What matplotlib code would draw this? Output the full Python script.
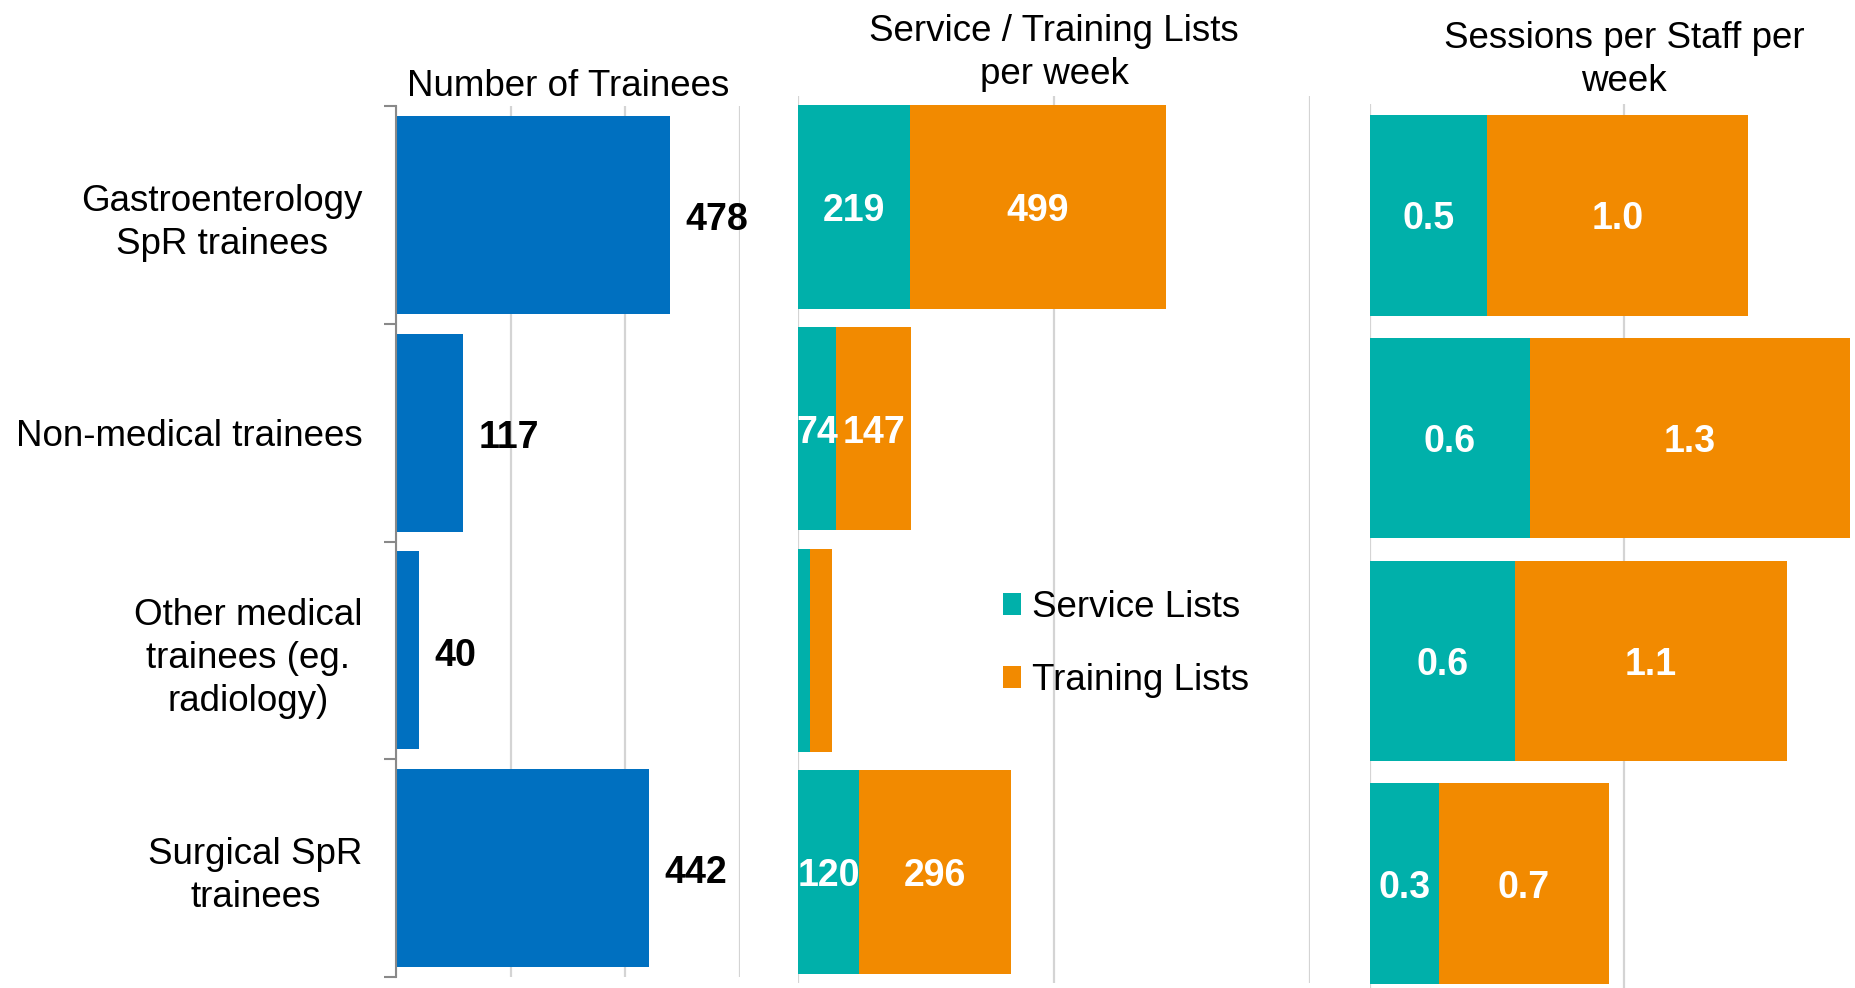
import numpy as np
import matplotlib
matplotlib.use('Agg')
import matplotlib.pyplot as plt

# ---------------- data ----------------
categories = ["Gastroenterology\nSpR trainees",
              "Non-medical trainees",
              "Other medical\ntrainees (eg.\nradiology)",
              "Surgical SpR\ntrainees"]
trainees = [478, 117, 40, 442]
service_lists = [219, 74, 24, 120]
training_lists = [499, 147, 43, 296]
service_sessions = [0.46, 0.63, 0.57, 0.27]
training_sessions = [1.03, 1.26, 1.07, 0.67]
titles = ["Number of Trainees",
          "Service / Training Lists\nper week",
          "Sessions per Staff per\nweek"]
legend_labels = ["Service Lists", "Training Lists"]

# ---------------- style ----------------
W, H = 1856, 988
BLUE = '#0070C0'
TEAL = '#00B0AA'
ORANGE = '#F28A00'
GRID = '#D4D4D4'
SPINE = '#898989'
FS = 26.5
FS_NUM = 27
LS = 1.3

plt.rcParams['font.family'] = ['Liberation Sans', 'DejaVu Sans']
fig = plt.figure(figsize=(W / 100, H / 100), dpi=100)


def add_px_axes(left, top, right, bottom):
    return fig.add_axes([left / W, 1 - bottom / H, (right - left) / W, (bottom - top) / H])


def style(ax, xmax, step):
    ax.set_xlim(0, xmax)
    ax.set_ylim(len(categories) - 0.5, -0.5)
    ax.set_xticks(np.arange(0, xmax + step / 2, step))
    ax.tick_params(axis='x', length=0, labelbottom=False)
    ax.grid(axis='x', color=GRID, linewidth=1.6)
    ax.set_axisbelow(True)
    for s in ax.spines.values():
        s.set_visible(False)
    ax.set_facecolor('none')


def title(ax, text, top, bottom, last_baseline):
    # va='baseline' anchors the baseline of the last line of the title
    ax.set_title(text, x=0.5, y=1 + (top - last_baseline) / (bottom - top), pad=0,
                 fontsize=FS, va='baseline', linespacing=LS)


y = np.arange(len(categories))

# ---------------- panel 1 ----------------
t1, b1_ = 106, 977
ax1 = add_px_axes(396, t1, 740, b1_)
style(ax1, 600, 200)
ax1.barh(y, trainees, height=0.91, color=BLUE)
for yi, v in zip(y, trainees):
    ax1.annotate(f"{v}", xy=(v, yi), xytext=(11, -11), textcoords='offset points',
                 ha='left', va='baseline', fontsize=FS_NUM, fontweight='bold', color='black')
ax1.set_yticks(y)
ax1.set_yticklabels(categories, fontsize=FS, multialignment='center', linespacing=LS)
ax1.tick_params(axis='y', which='major', length=0, pad=24)
ax1.set_yticks(np.arange(-0.5, len(categories)), minor=True)
ax1.tick_params(axis='y', which='minor', length=8.6, width=1.5, color=SPINE, direction='out')
ax1.spines['left'].set_visible(True)
ax1.spines['left'].set_color(SPINE)
ax1.spines['left'].set_linewidth(1.5)
title(ax1, titles[0], t1, b1_, 96)

# ---------------- panel 2 ----------------
t2, b2_ = 96, 983
ax2 = add_px_axes(798, t2, 1310, b2_)
style(ax2, 1000, 500)
ax2.set_yticks([])
bs = ax2.barh(y, service_lists, height=0.918, color=TEAL)
bt = ax2.barh(y, training_lists, left=service_lists, height=0.918, color=ORANGE)
for yi, s, t in zip(y, service_lists, training_lists):
    if s >= 50:
        ax2.annotate(f"{s}", xy=(s / 2, yi), xytext=(0, -10), textcoords='offset points',
                     ha='center', va='baseline', fontsize=FS_NUM, fontweight='bold', color='white')
    if t >= 50:
        ax2.annotate(f"{t}", xy=(s + t / 2, yi), xytext=(0, -10), textcoords='offset points',
                     ha='center', va='baseline', fontsize=FS_NUM, fontweight='bold', color='white')
title(ax2, titles[1], t2, b2_, 84)
ax2.legend([bs, bt], legend_labels, loc='upper left',
           bbox_to_anchor=(1003 / W, 1 - 590 / H), bbox_transform=fig.transFigure,
           frameon=False, fontsize=FS, handlelength=0.49, handleheight=0.55,
           handletextpad=0.3, labelspacing=1.03, borderpad=0, borderaxespad=0)

# ---------------- panel 3 ----------------
t3, b3_ = 104, 995
ax3 = add_px_axes(1370, t3, 1878, b3_)
style(ax3, 2, 1)
ax3.set_yticks([])
ax3.barh(y, service_sessions, height=0.90, color=TEAL)
ax3.barh(y, training_sessions, left=service_sessions, height=0.90, color=ORANGE)
for yi, s, t in zip(y, service_sessions, training_sessions):
    ax3.annotate(f"{s:.1f}", xy=(s / 2, yi), xytext=(0, -10), textcoords='offset points',
                 ha='center', va='baseline', fontsize=FS_NUM, fontweight='bold', color='white')
    ax3.annotate(f"{t:.1f}", xy=(s + t / 2, yi), xytext=(0, -10), textcoords='offset points',
                 ha='center', va='baseline', fontsize=FS_NUM, fontweight='bold', color='white')
title(ax3, titles[2], t3, b3_, 91)

fig.savefig('out.png', dpi=100)
